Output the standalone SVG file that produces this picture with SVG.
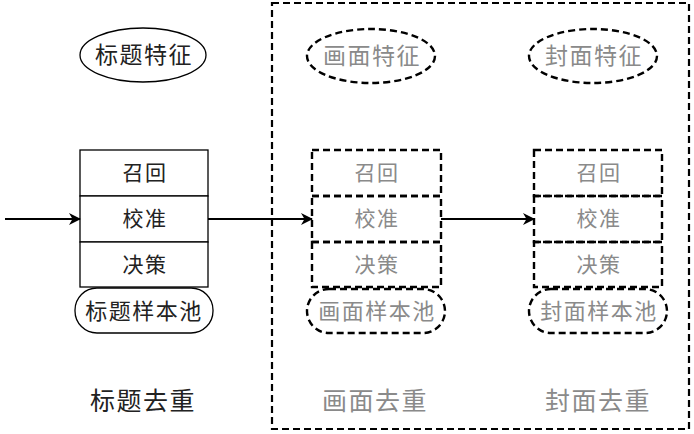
<svg xmlns="http://www.w3.org/2000/svg" width="694" height="434" viewBox="0 0 694 434">
<defs>
<marker id="ah" markerWidth="12" markerHeight="12" refX="11" refY="6" orient="auto" markerUnits="userSpaceOnUse">
<path d="M0,0 L12,6 L0,12 L3.5,6 Z" fill="#000"/>
</marker>
<style>
.t{font-family:"Liberation Serif","Noto Sans CJK SC",serif;text-anchor:middle;dominant-baseline:central;letter-spacing:1.5px;}
.blk{fill:#222;}
.gry{fill:#8a8a8a;}
.solid{fill:#fff;stroke:#000;stroke-width:1.3;}
.dash{fill:none;stroke:#000;stroke-width:2.4;stroke-dasharray:7,4;}
.conn{stroke:#000;stroke-width:2;fill:none;}
</style>
</defs>
<rect width="694" height="434" fill="#fff"/>
<rect id="frame" x="272" y="3" width="417" height="426" fill="none" stroke="#000" stroke-width="2.2" stroke-dasharray="7,4"/>

<g id="title-feature">
<ellipse class="solid" cx="143" cy="55" rx="63" ry="27"/>
<text class="t blk" x="144" y="55" font-size="23">标题特征</text>
</g>
<g id="title-stack">
<rect class="solid" x="80" y="150" width="128" height="46"/>
<rect class="solid" x="80" y="196" width="128" height="46"/>
<rect class="solid" x="80" y="242" width="128" height="45"/>
<text class="t blk" x="145" y="173" font-size="21">召回</text>
<text class="t blk" x="145" y="219" font-size="21">校准</text>
<text class="t blk" x="145" y="265" font-size="21">决策</text>
</g>
<g id="title-pool">
<rect class="solid" x="75" y="288" width="138" height="45" rx="22"/>
<text class="t blk" x="144" y="311" font-size="22">标题样本池</text>
</g>
<g id="title-label"><text class="t blk" x="143" y="401" font-size="25">标题去重</text></g>

<g id="picture-feature">
<ellipse class="dash" cx="371" cy="56" rx="64" ry="27"/>
<text class="t gry" x="372" y="56" font-size="23">画面特征</text>
</g>
<g id="picture-stack">
<rect class="dash" x="312" y="150" width="129" height="46"/>
<rect class="dash" x="312" y="196" width="129" height="46"/>
<rect class="dash" x="312" y="242" width="129" height="45"/>
<text class="t gry" x="377" y="173" font-size="21">召回</text>
<text class="t gry" x="377" y="219" font-size="21">校准</text>
<text class="t gry" x="377" y="265" font-size="21">决策</text>
</g>
<g id="picture-pool">
<rect class="dash" x="307" y="289" width="138" height="44" rx="22"/>
<text class="t gry" x="377" y="311" font-size="22">画面样本池</text>
</g>
<g id="picture-label"><text class="t gry" x="375" y="401" font-size="25">画面去重</text></g>

<g id="cover-feature">
<ellipse class="dash" cx="593" cy="56" rx="64" ry="27"/>
<text class="t gry" x="594" y="56" font-size="23">封面特征</text>
</g>
<g id="cover-stack">
<rect class="dash" x="534" y="150" width="128" height="46"/>
<rect class="dash" x="534" y="196" width="128" height="46"/>
<rect class="dash" x="534" y="242" width="128" height="45"/>
<text class="t gry" x="599" y="173" font-size="21">召回</text>
<text class="t gry" x="599" y="219" font-size="21">校准</text>
<text class="t gry" x="599" y="265" font-size="21">决策</text>
</g>
<g id="cover-pool">
<rect class="dash" x="529" y="289" width="138" height="44" rx="22"/>
<text class="t gry" x="599" y="311" font-size="22">封面样本池</text>
</g>
<g id="cover-label"><text class="t gry" x="598" y="401" font-size="25">封面去重</text></g>

<g id="connectors">
<line class="conn" x1="5" y1="219" x2="80" y2="219" marker-end="url(#ah)"/>
<line class="conn" x1="208" y1="219" x2="312" y2="219" marker-end="url(#ah)"/>
<line class="conn" x1="441" y1="219" x2="534" y2="219" marker-end="url(#ah)"/>
</g>
</svg>
